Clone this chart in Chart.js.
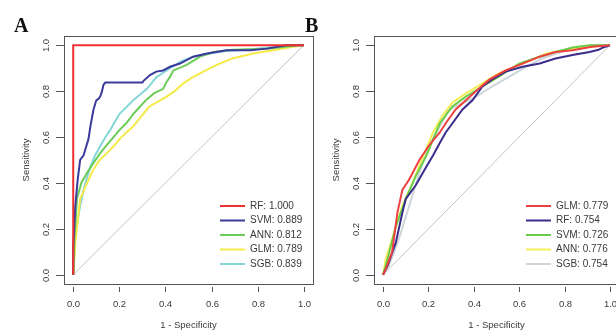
<!DOCTYPE html>
<html>
<head>
<meta charset="utf-8">
<script src="https://cdn.jsdelivr.net/npm/chart.js@4/dist/chart.umd.min.js"></script>
<style>
  html, body { margin: 0; padding: 0; background: #fff; }
  #wrap { position: relative; width: 616px; height: 334px; overflow: hidden; background: #fff; }
  #boxA { position: absolute; left: 0; top: 0; width: 316px; height: 334px; }
  #boxB { position: absolute; left: 300px; top: 0; width: 316px; height: 334px; overflow: hidden; }
</style>
</head>
<body>
<div id="wrap">
  <div id="boxA"><canvas id="rocA" width="316" height="334"></canvas></div>
  <div id="boxB"><canvas id="rocB" width="322" height="334"></canvas></div>
</div>
<script>
// Axis ticks shared by both panels
const tickValues = [0, 0.2, 0.4, 0.6, 0.8, 1.0];
const tickLabels = ['0.0', '0.2', '0.4', '0.6', '0.8', '1.0'];

// Panel A: training set ROC curves
const namesA = ['RF', 'SVM', 'ANN', 'GLM', 'SGB'];
const aucA = ['1.000', '0.889', '0.812', '0.789', '0.839'];
const colorsA = ['#ee3030', '#3a3a9c', '#6ccc58', '#f6e94a', '#86d6d8'];

const rfA_fpr = [0, 0, 1];
const rfA_tpr = [0, 1, 1];
const svmA_fpr = [0, 0, 0.009, 0.02, 0.03, 0.045, 0.052, 0.066, 0.075, 0.088, 0.10, 0.108, 0.117, 0.125, 0.131, 0.139, 0.30, 0.305, 0.333, 0.36, 0.39, 0.42, 0.463, 0.52, 0.58, 0.665, 0.77, 0.84, 0.925, 1.0];
const svmA_tpr = [0, 0.12, 0.30, 0.42, 0.50, 0.52, 0.545, 0.59, 0.65, 0.72, 0.76, 0.765, 0.776, 0.80, 0.827, 0.837, 0.837, 0.845, 0.87, 0.885, 0.89, 0.906, 0.92, 0.95, 0.964, 0.978, 0.978, 0.985, 1.0, 1.0];
const annA_fpr = [0, 0.005, 0.016, 0.035, 0.06, 0.09, 0.117, 0.145, 0.175, 0.2, 0.23, 0.26, 0.29, 0.32, 0.35, 0.39, 0.405, 0.42, 0.434, 0.49, 0.55, 0.61, 0.69, 0.84, 0.98, 1];
const annA_tpr = [0, 0.15, 0.33, 0.40, 0.444, 0.49, 0.53, 0.565, 0.60, 0.63, 0.66, 0.70, 0.733, 0.765, 0.79, 0.81, 0.84, 0.863, 0.89, 0.913, 0.95, 0.97, 0.98, 0.985, 1, 1];
const glmA_fpr = [0, 0.01, 0.03, 0.06, 0.088, 0.115, 0.146, 0.175, 0.2, 0.23, 0.26, 0.295, 0.33, 0.37, 0.405, 0.44, 0.478, 0.51, 0.55, 0.62, 0.69, 0.78, 0.867, 0.954, 1];
const glmA_tpr = [0, 0.15, 0.33, 0.40, 0.46, 0.50, 0.53, 0.56, 0.59, 0.62, 0.646, 0.69, 0.733, 0.755, 0.776, 0.80, 0.834, 0.855, 0.877, 0.913, 0.942, 0.964, 0.978, 0.993, 1];
const sgbA_fpr = [0, 0.01, 0.03, 0.05, 0.074, 0.095, 0.117, 0.14, 0.16, 0.18, 0.20, 0.23, 0.26, 0.29, 0.32, 0.34, 0.36, 0.39, 0.43, 0.47, 0.52, 0.58, 0.66, 0.75, 0.85, 0.93, 1];
const sgbA_tpr = [0, 0.18, 0.30, 0.39, 0.47, 0.52, 0.56, 0.60, 0.63, 0.665, 0.70, 0.73, 0.76, 0.785, 0.81, 0.835, 0.86, 0.88, 0.906, 0.93, 0.95, 0.962, 0.975, 0.98, 0.99, 1, 1];

// Panel B: validation set ROC curves
const namesB = ['GLM', 'RF', 'SVM', 'ANN', 'SGB'];
const aucB = ['0.779', '0.754', '0.726', '0.776', '0.754'];
const colorsB = ['#ee4040', '#3b2c8c', '#6acc48', '#f2ee58', '#cdd6da'];

const glmB_fpr = [0, 0.012, 0.04, 0.063, 0.085, 0.115, 0.16, 0.20, 0.25, 0.276, 0.32, 0.365, 0.41, 0.468, 0.54, 0.615, 0.69, 0.76, 0.835, 0.92, 1];
const glmB_tpr = [0, 0.026, 0.10, 0.27, 0.37, 0.415, 0.50, 0.56, 0.62, 0.66, 0.72, 0.76, 0.80, 0.85, 0.89, 0.92, 0.95, 0.97, 0.978, 0.993, 1];
const rfB_fpr = [0, 0.02, 0.056, 0.085, 0.10, 0.144, 0.19, 0.22, 0.25, 0.276, 0.306, 0.35, 0.394, 0.438, 0.48, 0.54, 0.615, 0.69, 0.76, 0.835, 0.91, 0.95, 0.97, 1];
const rfB_tpr = [0, 0.04, 0.14, 0.27, 0.33, 0.39, 0.47, 0.52, 0.574, 0.62, 0.66, 0.72, 0.76, 0.82, 0.85, 0.885, 0.906, 0.92, 0.942, 0.957, 0.97, 0.98, 0.99, 1];
const svmB_fpr = [0, 0.012, 0.056, 0.10, 0.144, 0.19, 0.25, 0.306, 0.365, 0.438, 0.51, 0.60, 0.69, 0.76, 0.835, 0.91, 1];
const svmB_tpr = [0, 0.04, 0.21, 0.33, 0.43, 0.517, 0.66, 0.733, 0.776, 0.82, 0.863, 0.92, 0.95, 0.97, 0.99, 1, 1];
const annB_fpr = [0, 0.012, 0.04, 0.085, 0.13, 0.17, 0.22, 0.26, 0.306, 0.365, 0.438, 0.51, 0.615, 0.72, 0.835, 0.95, 1];
const annB_tpr = [0, 0.07, 0.156, 0.30, 0.40, 0.50, 0.62, 0.69, 0.75, 0.79, 0.834, 0.877, 0.92, 0.964, 0.985, 0.996, 1];
const sgbB_fpr = [0, 0.026, 0.07, 0.115, 0.16, 0.20, 0.25, 0.29, 0.35, 0.41, 0.48, 0.556, 0.63, 0.70, 0.806, 0.92, 1];
const sgbB_tpr = [0, 0.04, 0.156, 0.30, 0.444, 0.56, 0.646, 0.72, 0.747, 0.776, 0.82, 0.863, 0.906, 0.942, 0.978, 1, 1];

const seriesA = [[rfA_fpr, rfA_tpr], [svmA_fpr, svmA_tpr], [annA_fpr, annA_tpr], [glmA_fpr, glmA_tpr], [sgbA_fpr, sgbA_tpr]];
const seriesB = [[glmB_fpr, glmB_tpr], [rfB_fpr, rfB_tpr], [svmB_fpr, svmB_tpr], [annB_fpr, annB_tpr], [sgbB_fpr, sgbB_tpr]];

const FONT = '"Liberation Sans", Arial, sans-serif';
const INK = '#3a3a3a';

function points(fpr, tpr) {
  return fpr.map((x, i) => ({ x: x, y: tpr[i] }));
}

// Draws the R-style frame, ticks, labels, panel letter and legend
const rFrame = {
  id: 'rFrame',
  afterDraw(chart, args, opts) {
    const ctx = chart.ctx;
    const a = chart.chartArea;
    const xs = chart.scales.x, ys = chart.scales.y;
    ctx.save();
    ctx.strokeStyle = '#555';
    ctx.lineWidth = 1;
    ctx.strokeRect(Math.round(a.left) + 0.5, Math.round(a.top) + 0.5, Math.round(a.right - a.left), Math.round(a.bottom - a.top));

    ctx.fillStyle = INK;
    ctx.font = '9.5px ' + FONT;
    // x axis
    tickValues.forEach((v, i) => {
      const px = Math.round(xs.getPixelForValue(v)) + 0.5;
      ctx.beginPath();
      ctx.moveTo(px, a.bottom + 3);
      ctx.lineTo(px, a.bottom + 8);
      ctx.stroke();
      ctx.textAlign = 'center';
      ctx.textBaseline = 'middle';
      ctx.fillText(tickLabels[i], px, a.bottom + 20);
    });
    // y axis, labels read upward
    tickValues.forEach((v, i) => {
      const py = Math.round(ys.getPixelForValue(v)) + 0.5;
      ctx.beginPath();
      ctx.moveTo(a.left - 8, py);
      ctx.lineTo(a.left, py);
      ctx.stroke();
      ctx.save();
      ctx.translate(a.left - 18, py);
      ctx.rotate(-Math.PI / 2);
      ctx.textAlign = 'center';
      ctx.textBaseline = 'middle';
      ctx.fillText(tickLabels[i], 0, 0);
      ctx.restore();
    });
    // axis titles
    ctx.font = '9.5px ' + FONT;
    ctx.textAlign = 'center';
    ctx.textBaseline = 'middle';
    const x0 = xs.getPixelForValue(0), x1 = xs.getPixelForValue(1);
    ctx.fillText('1 - Specificity', (x0 + x1) / 2, 325);
    ctx.save();
    ctx.translate(a.left - 38, (ys.getPixelForValue(0) + ys.getPixelForValue(1)) / 2);
    ctx.rotate(-Math.PI / 2);
    ctx.fillText('Sensitivity', 0, 0);
    ctx.restore();

    // panel letter
    ctx.fillStyle = '#111';
    ctx.font = 'bold 20px "Liberation Serif", "Times New Roman", serif';
    ctx.textAlign = 'left';
    ctx.textBaseline = 'alphabetic';
    ctx.fillText(opts.letter, opts.letterX, 32);

    // legend
    ctx.font = '10px ' + FONT;
    ctx.textBaseline = 'middle';
    opts.labels.forEach((lab, i) => {
      const y = 206 + i * 14.5;
      ctx.strokeStyle = opts.colors[i];
      ctx.lineWidth = 2;
      ctx.beginPath();
      ctx.moveTo(opts.legendX, y);
      ctx.lineTo(opts.legendX + 25, y);
      ctx.stroke();
      ctx.fillStyle = INK;
      ctx.fillText(lab, opts.legendX + 30, y);
    });
    ctx.restore();
  }
};

function makeChart(id, names, auc, colors, series, padding, letter, letterX, legendX) {
  const datasets = series.map((s, i) => ({
    label: names[i],
    data: points(s[0], s[1]),
    borderColor: colors[i],
    borderWidth: 2,
    pointRadius: 0,
    fill: false,
    tension: 0
  }));
  datasets.push({
    label: 'chance',
    data: points([0, 1], [0, 1]),
    borderColor: '#c4c4c4',
    borderWidth: 1,
    pointRadius: 0,
    fill: false
  });
  new Chart(document.getElementById(id), {
    type: 'line',
    data: { datasets: datasets },
    options: {
      responsive: false,
      animation: false,
      devicePixelRatio: 1,
      layout: { padding: padding },
      scales: {
        x: { type: 'linear', min: -0.04, max: 1.04, display: false },
        y: { type: 'linear', min: -0.04, max: 1.04, display: false }
      },
      plugins: {
        legend: { display: false },
        tooltip: { enabled: false },
        rFrame: {
          letter: letter,
          letterX: letterX,
          legendX: legendX,
          colors: colors,
          labels: names.map((n, i) => n + ': ' + auc[i])
        }
      }
    },
    plugins: [rFrame]
  });
}

makeChart('rocA', namesA, aucA, colorsA, seriesA,
  { left: 64, right: 3, top: 36, bottom: 50 }, 'A', 14, 220);
makeChart('rocB', namesB, aucB, colorsB, seriesB,
  { left: 74, right: 3, top: 36, bottom: 50 }, 'B', 5, 226);
</script>
</body>
</html>
